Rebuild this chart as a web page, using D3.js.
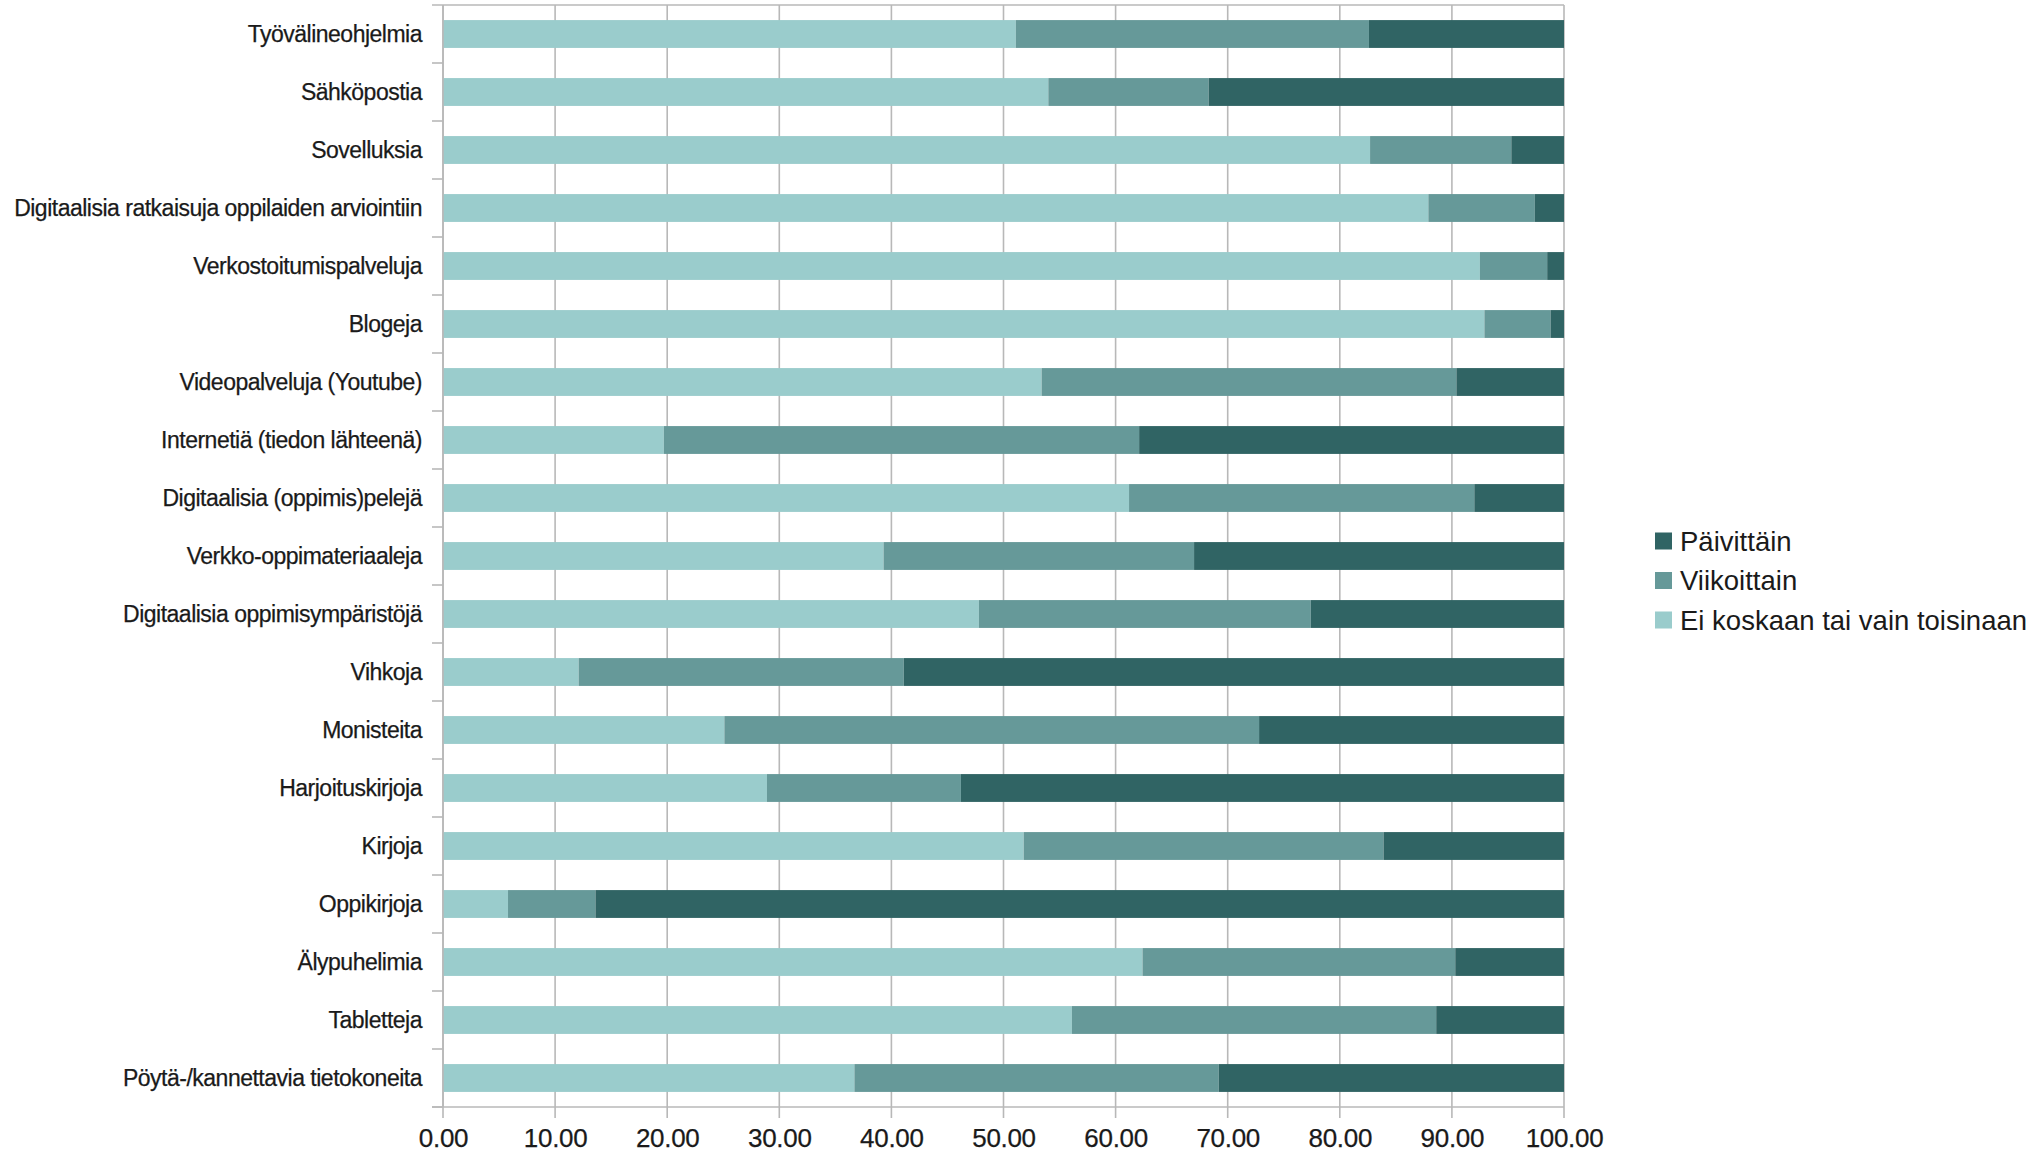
<html>
<head>
<meta charset="UTF-8">
<title>Digitaalisten välineiden käyttö</title>
<script src="https://d3js.org/d3.v7.min.js"></script>
<style>
  body{
    margin: 0;
    background: #ffffff;
  }
  svg{
    display: block;
  }
  .ylab{
    font-family: "Liberation Sans", Arial, sans-serif;
    font-size: 23px;
    letter-spacing: -0.5px;
    fill: #1a1a1a;
    stroke: #1a1a1a;
    stroke-width: 0.25px;
  }
  .leg{
    font-family: "Liberation Sans", Arial, sans-serif;
    font-size: 27.5px;
    fill: #1a1a1a;
  }
</style>
</head>
<body>
<script type="text/javascript">
var width = 2043;
var height = 1154;

// categories, top to bottom
var categories = ["Työvälineohjelmia", "Sähköpostia", "Sovelluksia",
  "Digitaalisia ratkaisuja oppilaiden arviointiin", "Verkostoitumispalveluja",
  "Blogeja", "Videopalveluja (Youtube)", "Internetiä (tiedon lähteenä)",
  "Digitaalisia (oppimis)pelejä", "Verkko-oppimateriaaleja",
  "Digitaalisia oppimisympäristöjä", "Vihkoja", "Monisteita",
  "Harjoituskirjoja", "Kirjoja", "Oppikirjoja", "Älypuhelimia",
  "Tabletteja", "Pöytä-/kannettavia tietokoneita"];

var eiKoskaan = [51.1, 54.0, 82.7, 87.9, 92.5, 92.9, 53.4, 19.7, 61.2, 39.3,
  47.8, 12.1, 25.1, 28.9, 51.8, 5.8, 62.4, 56.1, 36.7];
var viikoittain = [31.5, 14.3, 12.6, 9.5, 6.0, 5.9, 37.0, 42.4, 30.8, 27.7,
  29.6, 29.0, 47.7, 17.3, 32.1, 7.8, 27.9, 32.5, 32.5];
var paivittain = [17.4, 31.7, 4.7, 2.6, 1.5, 1.2, 9.6, 37.9, 8.0, 33.0,
  22.6, 58.9, 27.2, 53.8, 16.1, 86.4, 9.7, 11.4, 30.8];

var seriesNames = ["Ei koskaan tai vain toisinaan", "Viikoittain", "Päivittäin"];
var seriesColors = ["#9acccc", "#669999", "#306464"];
var xTicks = [0, 10, 20, 30, 40, 50, 60, 70, 80, 90, 100];

var plotLeft = 443, plotRight = 1564, plotTop = 5, plotBottom = 1107;
var gridColor = "#b8b8b8";

var rows = categories.map(function(c, i){
  return {cat: c, s0: eiKoskaan[i], s1: viikoittain[i], s2: paivittain[i]};
});

var svg = d3.select("body").append("svg")
  .attr("width", width)
  .attr("height", height);

svg.append("rect").attr("width", width).attr("height", height).attr("fill", "#fff");

var x = d3.scaleLinear().domain([0, 100]).range([plotLeft, plotRight]);
var y = d3.scaleBand().domain(categories).range([plotTop, plotBottom])
  .paddingInner(0.52).paddingOuter(0.26);

// vertical grid lines (run a little below the axis)
svg.append("g").selectAll("line")
  .data(xTicks)
  .enter()
  .append("line")
  .attr("x1", function(d){ return x(d); })
  .attr("x2", function(d){ return x(d); })
  .attr("y1", plotTop)
  .attr("y2", plotBottom + 11)
  .attr("stroke", gridColor)
  .attr("stroke-width", 1.6);

// top and bottom lines
svg.append("line").attr("x1", plotLeft - 11).attr("x2", plotRight)
  .attr("y1", plotTop).attr("y2", plotTop)
  .attr("stroke", gridColor).attr("stroke-width", 1.6);
svg.append("line").attr("x1", plotLeft - 11).attr("x2", plotRight)
  .attr("y1", plotBottom).attr("y2", plotBottom)
  .attr("stroke", gridColor).attr("stroke-width", 1.6);

// y tick stubs at band borders
svg.append("g").selectAll("line")
  .data(categories)
  .enter()
  .append("line")
  .attr("x1", plotLeft - 11)
  .attr("x2", plotLeft)
  .attr("y1", function(d){ return y(d) + y.bandwidth() / 2 + y.step() / 2; })
  .attr("y2", function(d){ return y(d) + y.bandwidth() / 2 + y.step() / 2; })
  .attr("stroke", gridColor)
  .attr("stroke-width", 1.6);

// stacked bars
var stack = d3.stack().keys(["s0", "s1", "s2"]);
var layers = stack(rows);

svg.append("g").selectAll("g")
  .data(layers)
  .enter()
  .append("g")
  .attr("fill", function(d, i){ return seriesColors[i]; })
  .selectAll("rect")
  .data(function(d){ return d; })
  .enter()
  .append("rect")
  .attr("x", function(d){ return x(d[0]); })
  .attr("y", function(d){ return y(d.data.cat); })
  .attr("width", function(d){ return x(d[1]) - x(d[0]); })
  .attr("height", y.bandwidth());

// y axis line
svg.append("line").attr("x1", plotLeft).attr("x2", plotLeft)
  .attr("y1", plotTop).attr("y2", plotBottom)
  .attr("stroke", gridColor).attr("stroke-width", 1.6);

// category labels
svg.append("g").selectAll("text")
  .data(categories)
  .enter()
  .append("text")
  .attr("class", "ylab")
  .attr("x", 422)
  .attr("y", function(d){ return y(d) + y.bandwidth() / 2 + 8; })
  .attr("text-anchor", "end")
  .text(function(d){ return d; });

// x axis labels
var xAxis = d3.axisBottom(x)
  .tickValues(xTicks)
  .tickFormat(d3.format(".2f"))
  .tickSize(0)
  .tickPadding(0);

var gx = svg.append("g")
  .attr("transform", "translate(0," + plotBottom + ")")
  .call(xAxis);
gx.select(".domain").remove();
gx.selectAll("text")
  .attr("dy", null)
  .attr("y", 40)
  .style("font-size", "26px")
  .style("font-family", "'Liberation Sans', Arial, sans-serif")
  .style("letter-spacing", "-0.3px")
  .attr("fill", "#1a1a1a")
  .attr("stroke", "#1a1a1a")
  .attr("stroke-width", 0.25);

// legend (dark first)
var legendOrder = [2, 1, 0];
var leg = svg.append("g").selectAll("g")
  .data(legendOrder)
  .enter()
  .append("g")
  .attr("transform", function(d, i){ return "translate(1655," + (541 + i * 39.5) + ")"; });

leg.append("rect")
  .attr("x", 0)
  .attr("y", -8.5)
  .attr("width", 17)
  .attr("height", 17)
  .attr("fill", function(d){ return seriesColors[d]; });

leg.append("text")
  .attr("class", "leg")
  .attr("x", 25)
  .attr("y", 9.5)
  .text(function(d){ return seriesNames[d]; });
</script>
</body>
</html>
